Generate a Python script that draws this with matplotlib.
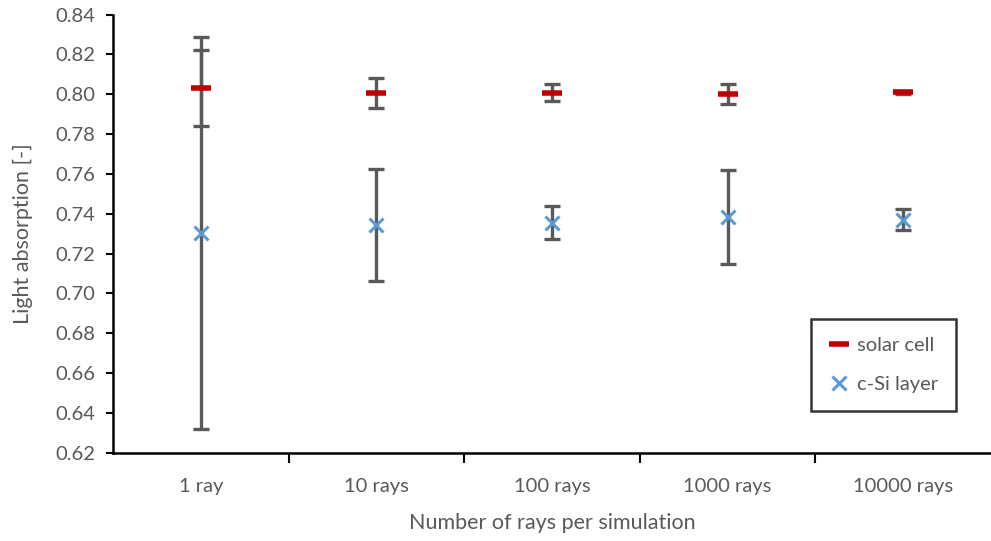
import matplotlib
matplotlib.use("Agg")
import matplotlib.pyplot as plt
import numpy as np

categories = ["1 ray", "10 rays", "100 rays", "1000 rays", "10000 rays"]
solar_cell = [0.8033, 0.8006, 0.8008, 0.8003, 0.8010]
solar_cell_err = [0.0191, 0.0077, 0.0042, 0.0050, 0.0008]
csi_layer = [0.7305, 0.7345, 0.7354, 0.7384, 0.7370]
csi_layer_err = [0.0985, 0.0280, 0.0083, 0.0237, 0.0053]

plt.rcParams['font.family'] = ['Lato', 'DejaVu Sans']
txt = '#595959'

fig = plt.figure(figsize=(9.91, 5.41), dpi=100)
ax = fig.add_axes([0.114, 0.163, 0.886, 0.810])

x = np.arange(len(categories))
ax.errorbar(x, solar_cell, yerr=solar_cell_err, fmt='none', ecolor='#595959',
            elinewidth=2.4, capsize=6, capthick=2.4, zorder=2)
ax.errorbar(x, csi_layer, yerr=csi_layer_err, fmt='none', ecolor='#595959',
            elinewidth=2.4, capsize=6, capthick=2.4, zorder=2)
ax.plot(x, solar_cell, linestyle='none', marker='_', markersize=15,
        markeredgewidth=4, color='#C00000', label='solar cell', zorder=3)
ax.plot(x, csi_layer, linestyle='none', marker='x', markersize=10,
        markeredgewidth=2.2, color='#5B9BD5', label='c-Si layer', zorder=3)

ax.set_xlim(-0.5, len(categories) - 0.5)
ax.set_ylim(0.62, 0.84)
ax.set_yticks(np.arange(0.62, 0.8401, 0.02))
ax.set_yticklabels([f"{v:.2f}" for v in np.arange(0.62, 0.8401, 0.02)])
ax.set_xticks(x)
ax.set_xticklabels(categories)
ax.set_xticks(np.arange(0.5, len(categories) - 0.5, 1.0), minor=True)
ax.tick_params(axis='x', which='major', length=0, pad=18, labelsize=14.5, labelcolor=txt)
ax.tick_params(axis='x', which='minor', length=7, width=1.5, color='black', direction='out')
ax.tick_params(axis='y', which='major', length=5, width=1.5, color='black',
               labelsize=14.5, labelcolor=txt, pad=8)

for s in ['top', 'right']:
    ax.spines[s].set_visible(False)
for s in ['left', 'bottom']:
    ax.spines[s].set_linewidth(1.8)
    ax.spines[s].set_color('black')

ax.set_xlabel("Number of rays per simulation", fontsize=15.5, color=txt, labelpad=13)
ax.set_ylabel("Light absorption [-]", fontsize=15.5, color=txt, labelpad=16)

leg = ax.legend(loc='lower right', bbox_to_anchor=(0.972, 0.072), frameon=True,
                fancybox=False, edgecolor='black', fontsize=14.5, labelcolor=txt,
                handlelength=1.0, handletextpad=0.4, borderpad=0.9, labelspacing=1.1,
                markerscale=1.0)
leg.get_frame().set_linewidth(1.8)

fig.savefig("out.png", dpi=100)
